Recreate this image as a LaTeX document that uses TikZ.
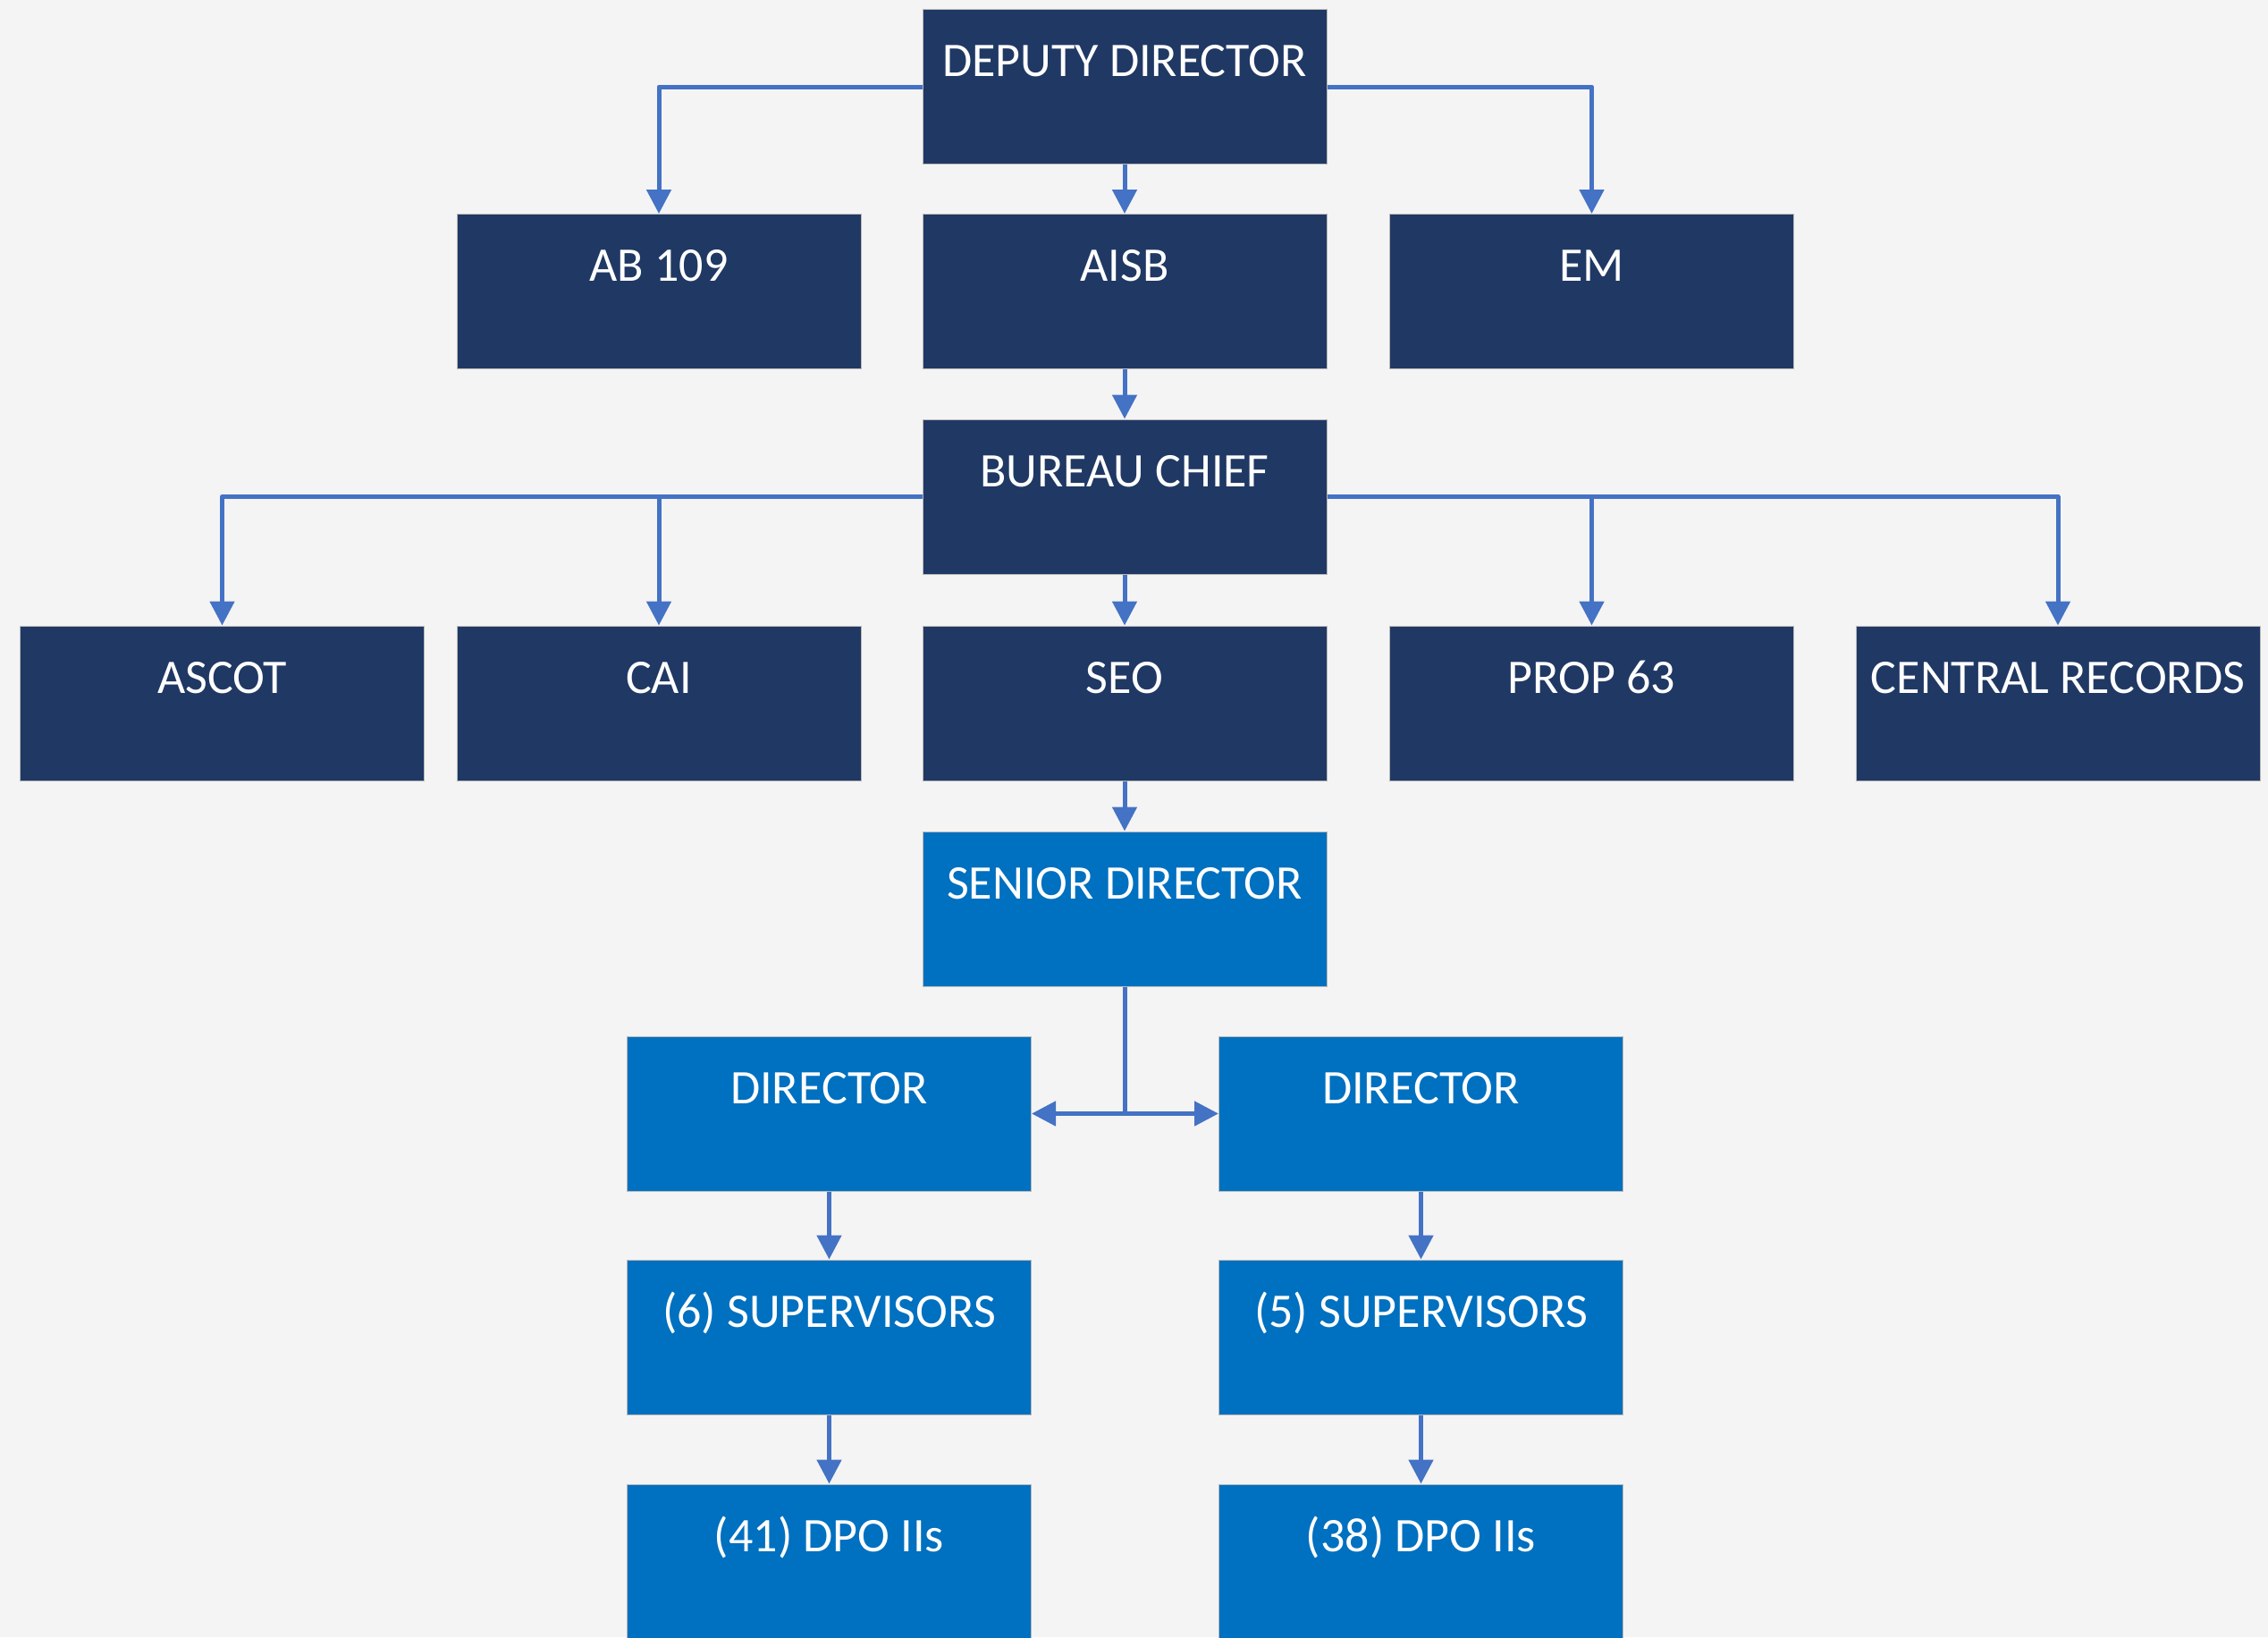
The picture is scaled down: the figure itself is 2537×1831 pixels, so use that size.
\documentclass[tikz,border=0pt]{standalone}
\usepackage{fontspec}
\setmainfont{Carlito}
\usetikzlibrary{arrows.meta}
\definecolor{navy}{HTML}{203864}
\definecolor{bright}{HTML}{0070C0}
\definecolor{conn}{HTML}{4472C4}
\definecolor{bg}{HTML}{F4F4F4}
\tikzset{
  orgbox/.style={draw=gray!55, line width=1pt, text=white, minimum width=452pt, minimum height=173pt,
    inner xsep=0pt, inner ysep=40pt, text height=35pt, text depth=58pt,
    font=\fontsize{54}{60}\selectfont, anchor=center},
  darkbox/.style={orgbox, fill=navy},
  bluebox/.style={orgbox, fill=bright},
  link/.style={draw=conn, line width=5pt, line join=round, -{Triangle[width=27pt,length=27pt]}},
  plainlink/.style={draw=conn, line width=5pt, line join=round}
}
\begin{document}
\begin{tikzpicture}[x=1pt,y=-1pt]
\useasboundingbox[fill=bg] (0,0) rectangle (2537,1831);
% nodes
\node[darkbox] (dd) at (1258,97) {DEPUTY DIRECTOR};
\node[darkbox] (ab) at (737,326) {AB 109};
\node[darkbox] (aisb) at (1258,326) {AISB};
\node[darkbox] (em) at (1780.5,326) {EM};
\node[darkbox] (bc) at (1258,555.5) {BUREAU CHIEF};
\node[darkbox] (ascot) at (248.5,786.5) {ASCOT};
\node[darkbox] (cai) at (737,786.5) {CAI};
\node[darkbox] (seo) at (1258,786.5) {SEO};
\node[darkbox] (prop) at (1780.5,786.5) {PROP 63};
\node[darkbox] (cr) at (2302,786.5) {CENTRAL RECORDS};
\node[bluebox] (sd) at (1258,1016.5) {SENIOR DIRECTOR};
\node[bluebox] (dl) at (927.5,1245.5) {DIRECTOR};
\node[bluebox] (dr) at (1589.5,1245.5) {DIRECTOR};
\node[bluebox] (sl) at (927.5,1495.5) {(6) SUPERVISORS};
\node[bluebox] (sr) at (1589.5,1495.5) {(5) SUPERVISORS};
\node[bluebox] (pl) at (927.5,1746.5) {(41) DPO IIs};
\node[bluebox] (pr) at (1589.5,1746.5) {(38) DPO IIs};
\coordinate (j) at (sd.south |- dl.east);
% connectors
\draw[link] (dd.west) -| (ab.north);
\draw[link] (dd.east) -| (em.north);
\draw[link] (dd.south) -- (aisb.north);
\draw[link] (aisb.south) -- (bc.north);
\draw[link] (bc.west) -| (ascot.north);
\draw[link] (bc.west) -| (cai.north);
\draw[link] (bc.east) -| (prop.north);
\draw[link] (bc.east) -| (cr.north);
\draw[link] (bc.south) -- (seo.north);
\draw[link] (seo.south) -- (sd.north);
\draw[plainlink] (sd.south) -- (j);
\draw[link] (j) -- (dl.east);
\draw[link] (j) -- (dr.west);
\draw[link] (dl.south) -- (sl.north);
\draw[link] (dr.south) -- (sr.north);
\draw[link] (sl.south) -- (pl.north);
\draw[link] (sr.south) -- (pr.north);
\end{tikzpicture}
\end{document}
